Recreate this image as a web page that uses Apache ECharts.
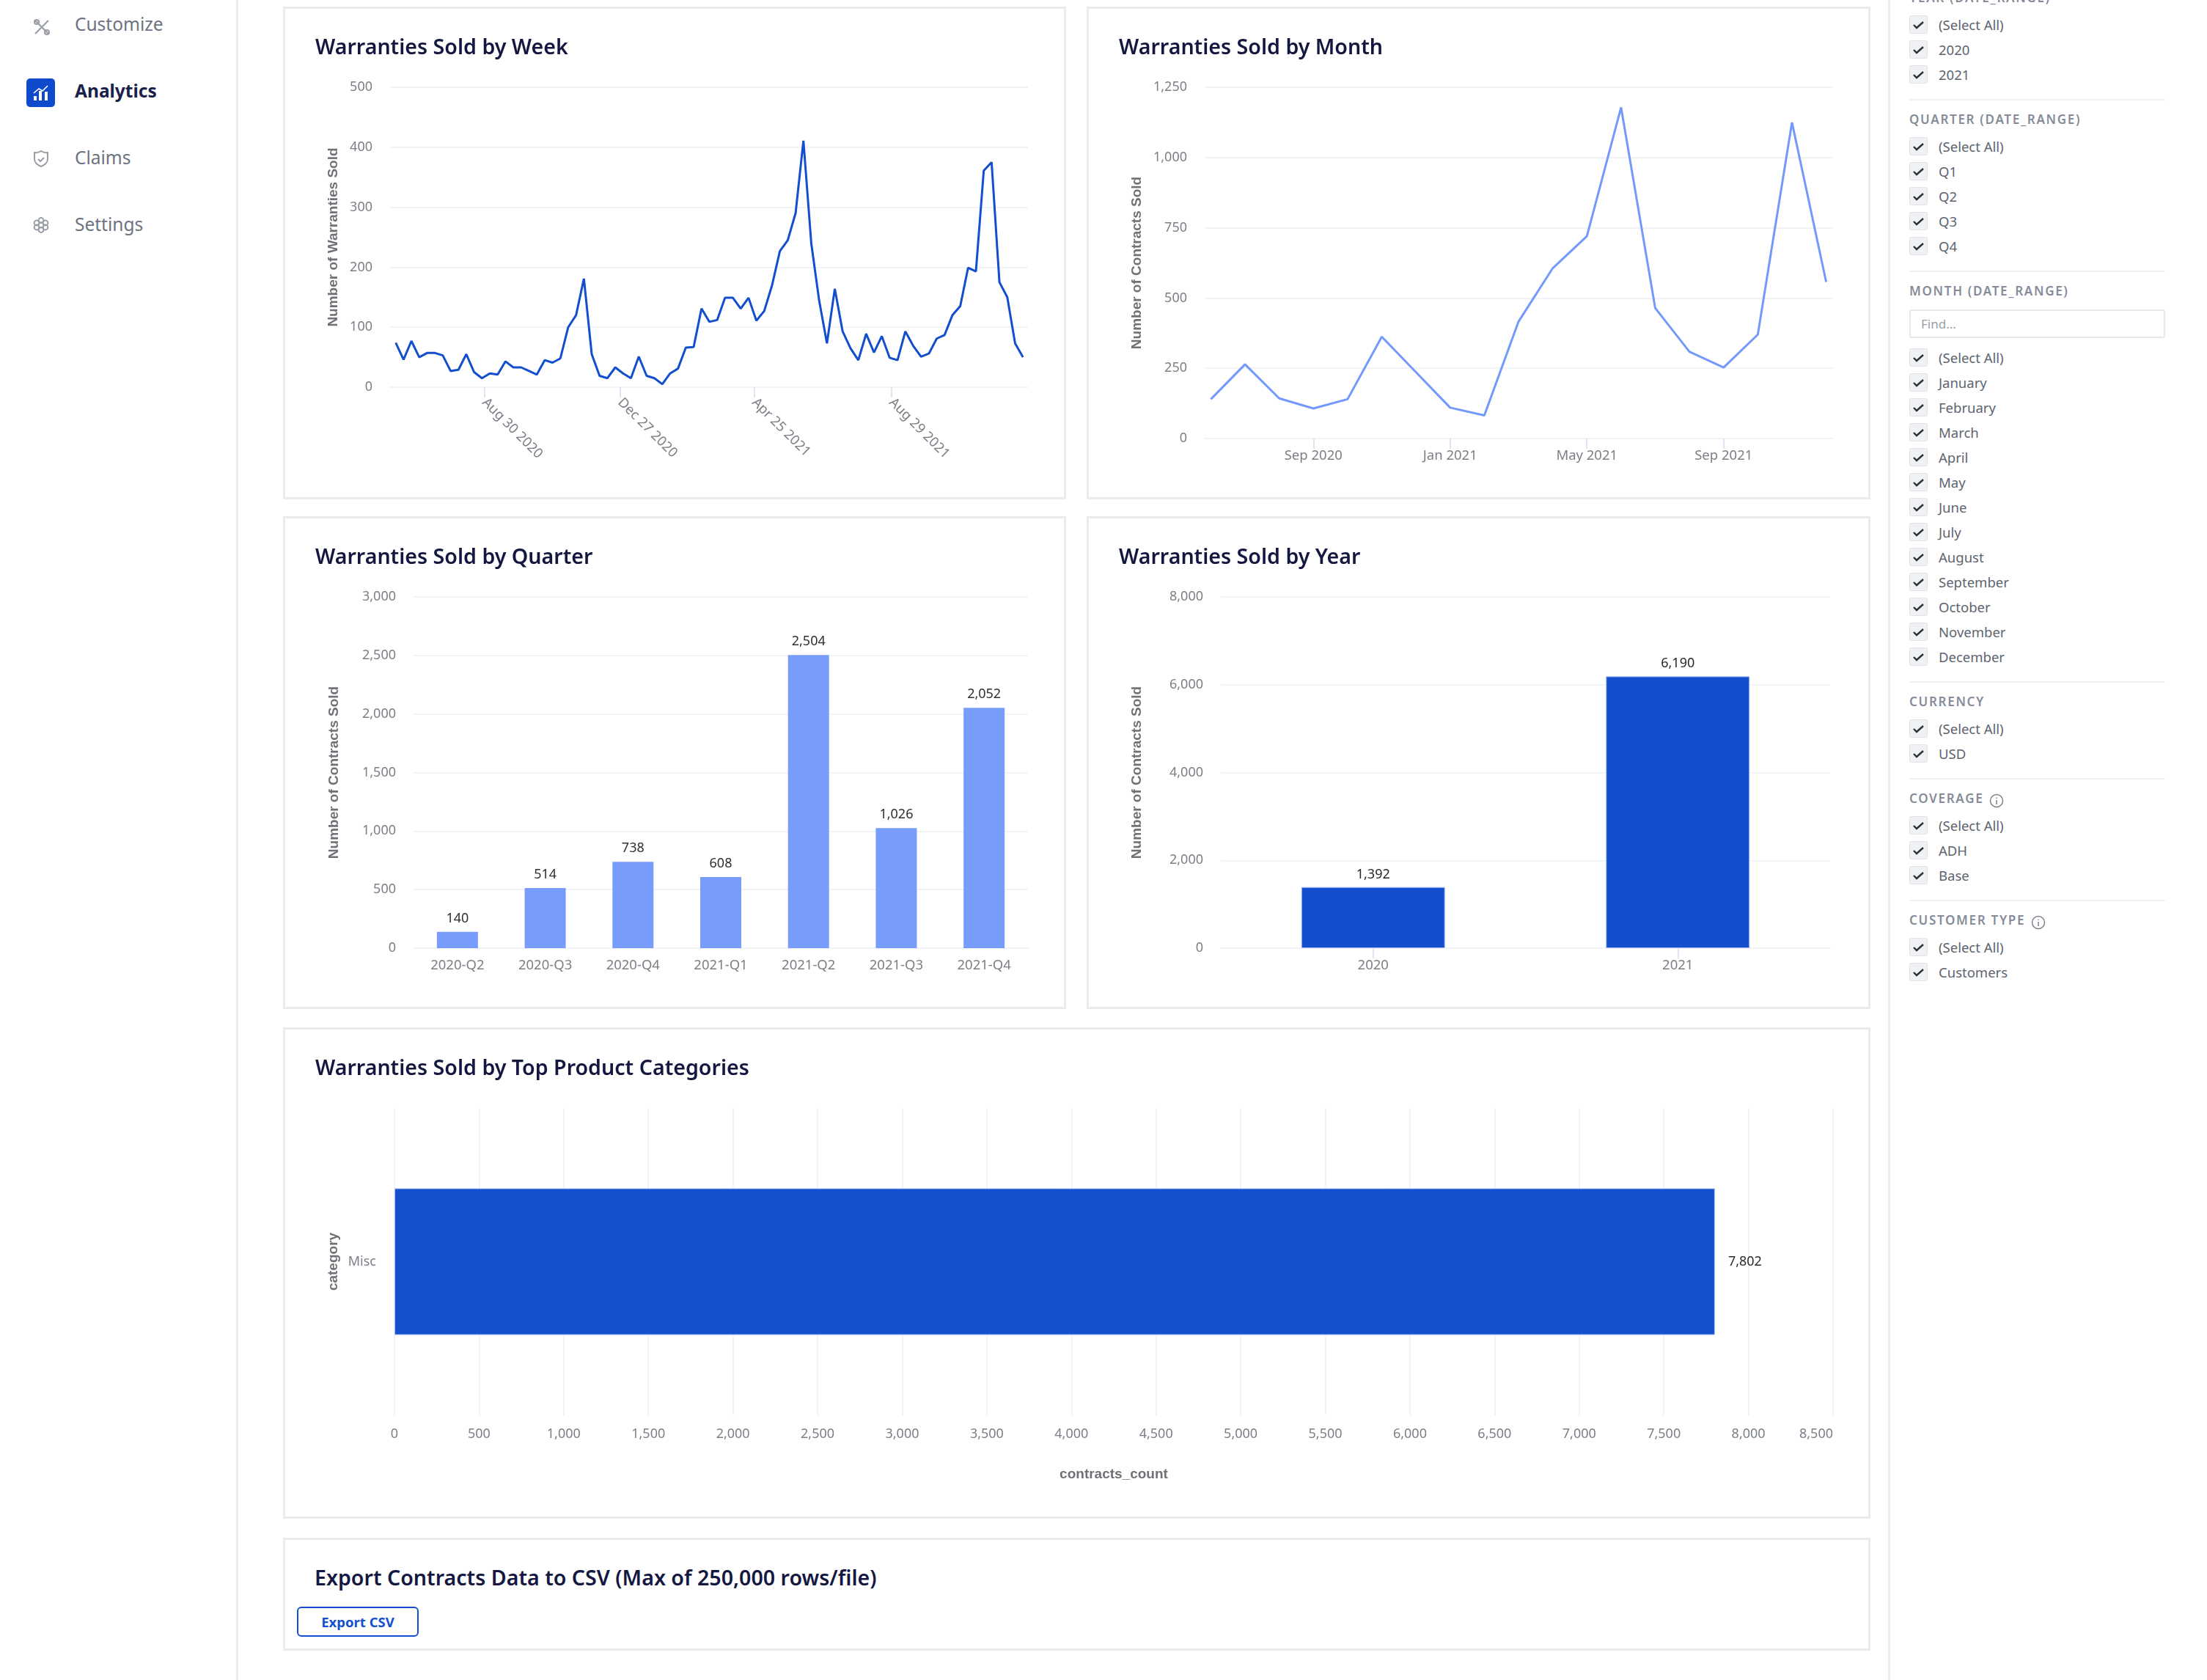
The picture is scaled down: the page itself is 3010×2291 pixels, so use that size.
<!DOCTYPE html>
<html>
<head>
<meta charset="utf-8">
<title>Warranties Analytics</title>
<script src="https://cdn.jsdelivr.net/npm/echarts@6/dist/echarts.min.js"></script>
<style>
html, body { margin: 0; padding: 0; background: #fff; }
body { position: relative; width: 3010px; height: 2291px; overflow: hidden; font-family: "Noto Sans", sans-serif; }
.vline { position: absolute; top: 0; bottom: 0; width: 3px; background: #e9ecf3; }
.nav { position: absolute; left: 102px; font-size: 24.5px; line-height: 34px; color: #6d737f; }
.nav.active { color: #1b1f4b; font-weight: 700; }
.navicon { position: absolute; }
.card { position: absolute; box-sizing: border-box; border: 3px solid #e9ebef; }
.chart { position: absolute; }
.export-title { position: absolute; left: 429px; top: 2131px; font-size: 28.6px; line-height: 40px; font-weight: 600; color: #14173f; white-space: nowrap; }
.export-btn { position: absolute; left: 405px; top: 2191px; width: 166px; height: 41px; box-sizing: border-box; border: 2px solid #1350d0; border-radius: 6px; color: #1350d0; font-size: 18.5px; font-weight: 700; line-height: 37px; text-align: center; }
#filters { position: absolute; left: 2604px; top: -13px; width: 349px; color: #5d6470; }
.fsec { border-bottom: 2px solid #eff0f3; padding-bottom: 16px; margin-bottom: 16px; }
.fsec:last-child { border-bottom: 0; }
.fhead { height: 20px; line-height: 20px; margin-bottom: 10px; font-size: 17px; font-weight: 600; letter-spacing: 1.7px; color: #858b98; white-space: nowrap; }
.fhead svg { vertical-align: -7px; margin-left: 8px; }
.ffind { box-sizing: border-box; height: 39px; margin: 15px 0 10px; border: 2px solid #e6e7eb; border-radius: 3px; font-size: 17px; line-height: 35px; padding-left: 14px; color: #9a9ea8; }
.frow { height: 34px; line-height: 34px; font-size: 18.5px; padding-left: 40px; position: relative; }
.frow svg { position: absolute; left: 0; top: 4px; }
</style>
</head>
<body>
<div class="vline" style="left:322px"></div>
<div class="vline" style="left:2575px"></div>

<svg class="navicon" style="left:45px;top:25px" width="24" height="24" viewBox="0 0 24 24" fill="none" stroke="#9a9ea6" stroke-width="2.2"><path d="M3 21 21 3M3 3l18 18"/><circle cx="5" cy="5" r="3"/><circle cx="19" cy="19" r="3"/></svg>
<div class="nav" style="top:16px">Customize</div>
<svg class="navicon" style="left:36px;top:107px" width="39" height="39" viewBox="0 0 39 39"><rect width="39" height="39" rx="5" fill="#0f49cc"/><path d="M10 30v-6h4v6zM17 30V17h4v13zM25 30V18h4v12z" fill="#fff"/><path d="M10 20l7-6 5 3 7-7" fill="none" stroke="#fff" stroke-width="1.6"/></svg>
<div class="nav active" style="top:107px">Analytics</div>
<svg class="navicon" style="left:45px;top:205px" width="22" height="24" viewBox="0 0 22 24" fill="none" stroke="#9a9ea6" stroke-width="2"><path d="M2 3c4 1 6 0 9-2 3 2 5 3 9 2v9c0 5-4 8-9 10C6 20 2 17 2 12z"/><path d="M7 12l3 3 5-5"/></svg>
<div class="nav" style="top:198px">Claims</div>
<svg class="navicon" style="left:45px;top:296px" width="22" height="22" viewBox="0 0 22 22" fill="none" stroke="#9a9ea6" stroke-width="2"><circle cx="11" cy="11" r="3.5"/><circle cx="11" cy="4.5" r="3.4"/><circle cx="11" cy="17.5" r="3.4"/><circle cx="5" cy="8" r="3.4"/><circle cx="17" cy="8" r="3.4"/><circle cx="5" cy="14" r="3.4"/><circle cx="17" cy="14" r="3.4"/></svg>
<div class="nav" style="top:289px">Settings</div>

<div class="card" style="left:386px;top:9px;width:1068px;height:672px"></div>
<div class="card" style="left:1482px;top:9px;width:1069px;height:672px"></div>
<div class="card" style="left:386px;top:704px;width:1068px;height:672px"></div>
<div class="card" style="left:1482px;top:704px;width:1069px;height:672px"></div>
<div class="card" style="left:386px;top:1401px;width:2165px;height:670px"></div>
<div class="card" style="left:386px;top:2097px;width:2165px;height:154px"></div>

<div id="chartWeek" class="chart" style="left:387px;top:11px;width:1067px;height:669px"></div>
<div id="chartMonth" class="chart" style="left:1482px;top:11px;width:1068px;height:669px"></div>
<div id="chartQuarter" class="chart" style="left:387px;top:706px;width:1067px;height:669px"></div>
<div id="chartYear" class="chart" style="left:1482px;top:706px;width:1068px;height:669px"></div>
<div id="chartCategory" class="chart" style="left:387px;top:1403px;width:2163px;height:667px"></div>

<div class="export-title">Export Contracts Data to CSV (Max of 250,000 rows/file)</div>
<div class="export-btn">Export CSV</div>

<div id="filters"></div>

<script>
// chart data
var weekValues = [74, 46, 77, 50, 57, 57, 53, 27, 29, 55, 25, 15, 23, 21, 43, 33, 33, 27, 21, 45, 41, 48, 100, 120, 181, 55, 19, 15, 33, 23, 15, 51, 19, 15, 5, 23, 31, 66, 67, 131, 109, 112, 149, 149, 131, 149, 111, 127, 170, 227, 245, 290, 411, 240, 145, 73, 164, 93, 65, 45, 89, 58, 85, 49, 45, 93, 69, 51, 56, 81, 87, 120, 135, 199, 193, 361, 375, 175, 150, 73, 50];
var weekTickPos = [11.29, 28.6, 45.7, 63.2];
var weekTickLabels = ['Aug 30 2020', 'Dec 27 2020', 'Apr 25 2021', 'Aug 29 2021'];

var monthValues = [140, 264, 143, 107, 140, 362, 236, 110, 82, 416, 606, 720, 1178, 464, 309, 253, 370, 1125, 557];
var monthTickPos = [3, 7, 11, 15];
var monthTickLabels = ['Sep 2020', 'Jan 2021', 'May 2021', 'Sep 2021'];

var quarterNames = ['2020-Q2', '2020-Q3', '2020-Q4', '2021-Q1', '2021-Q2', '2021-Q3', '2021-Q4'];
var quarterValues = [140, 514, 738, 608, 2504, 1026, 2052];

var yearNames = ['2020', '2021'];
var yearValues = [1392, 6190];

var categoryNames = ['Misc'];
var categoryValues = [7802];

// filter panel
var selectAll = '(Select All)';
var yearFilter = [selectAll, '2020', '2021'];
var quarterFilter = [selectAll, 'Q1', 'Q2', 'Q3', 'Q4'];
var monthFilter = [selectAll, 'January', 'February', 'March', 'April', 'May', 'June', 'July', 'August', 'September', 'October', 'November', 'December'];
var currencyFilter = [selectAll, 'USD'];
var coverageFilter = [selectAll, 'ADH', 'Base'];
var customerFilter = [selectAll, 'Customers'];

var FONT = 'Noto Sans';
var DARK_BLUE = '#124ece';
var LIGHT_BLUE = '#7499fc';
var TICK_TEXT = '#7b7f86';
var GRID = '#f2f3f6';

function indexPairs(values) {
    return values.map(function (v, i) { return [i, v]; });
}

// title has 5px default padding, so left/top are that much less than the text position
function titleOf(text, left) {
    return { text: text, left: left, top: 35, textStyle: { fontFamily: FONT, fontSize: 28.6, fontWeight: 600, color: '#14173f' } };
}

function valueAxis(max, interval, name, nameGap) {
    return {
        type: 'value', min: 0, max: max, interval: interval,
        name: name, nameLocation: 'middle', nameGap: nameGap,
        nameTextStyle: { fontFamily: 'Liberation Sans', fontSize: 19, fontWeight: 700, color: '#6f7176' },
        axisLine: { show: false }, axisTick: { show: false },
        axisLabel: { fontFamily: FONT, fontSize: 18, color: TICK_TEXT, margin: 24, padding: [3, 0, 0, 0] },
        splitLine: { lineStyle: { color: GRID, width: 2 } }
    };
}

// x axis for the two line charts: ticks only at the labelled positions
function indexAxis(min, max, tickPos, tickLabels, rotate, margin) {
    return {
        type: 'value', min: min, max: max,
        splitLine: { show: false },
        axisLine: { lineStyle: { color: GRID, width: 2 } },
        axisTick: { customValues: tickPos, length: 14, lineStyle: { color: '#dde4f4', width: 2 } },
        axisLabel: {
            customValues: tickPos, rotate: rotate, margin: margin,
            fontFamily: FONT, fontSize: 18.5, color: TICK_TEXT,
            formatter: function (v) { return tickLabels[tickPos.indexOf(v)]; }
        }
    };
}

function categoryAxis(names, showTick) {
    return {
        type: 'category', data: names,
        axisLine: { lineStyle: { color: GRID, width: 2 } },
        axisTick: { show: showTick, alignWithLabel: true, length: 14, lineStyle: { color: '#dde4f4', width: 2 } },
        axisLabel: { fontFamily: FONT, fontSize: 18.5, color: TICK_TEXT, margin: 14 }
    };
}

function barLabel(pos, dist) {
    return {
        show: true, position: pos, distance: dist,
        fontFamily: FONT, fontSize: 18, color: '#26282c',
        formatter: function (p) { return p.value.toLocaleString('en-US'); }
    };
}

function lineSeries(values, color) {
    return { type: 'line', data: indexPairs(values), showSymbol: false, lineStyle: { color: color, width: 3 } };
}

echarts.init(document.getElementById('chartWeek')).setOption({
    animation: false,
    title: titleOf('Warranties Sold by Week', 38),
    grid: { left: 145, top: 108, right: 52, bottom: 152 },
    xAxis: indexAxis(-0.72, 80.64, weekTickPos, weekTickLabels, -45, 18),
    yAxis: valueAxis(500, 100, 'Number of Warranties Sold', 68),
    series: [lineSeries(weekValues, DARK_BLUE)]
});

echarts.init(document.getElementById('chartMonth')).setOption({
    animation: false,
    title: titleOf('Warranties Sold by Month', 39),
    grid: { left: 161, top: 108, right: 51, bottom: 82 },
    xAxis: indexAxis(-0.18, 18.18, monthTickPos, monthTickLabels, 0, 14),
    yAxis: valueAxis(1250, 250, 'Number of Contracts Sold', 83),
    series: [lineSeries(monthValues, LIGHT_BLUE)]
});

echarts.init(document.getElementById('chartQuarter')).setOption({
    animation: false,
    title: titleOf('Warranties Sold by Quarter', 38),
    grid: { left: 177, top: 108, right: 52, bottom: 82 },
    xAxis: categoryAxis(quarterNames, false),
    yAxis: valueAxis(3000, 500, 'Number of Contracts Sold', 99),
    series: [{
        type: 'bar', data: quarterValues, barWidth: 56,
        itemStyle: { color: LIGHT_BLUE, opacity: 0.97 },
        label: barLabel('top', 9)
    }]
});

echarts.init(document.getElementById('chartYear')).setOption({
    animation: false,
    title: titleOf('Warranties Sold by Year', 39),
    grid: { left: 183, top: 108, right: 54, bottom: 82 },
    xAxis: categoryAxis(yearNames, true),
    yAxis: valueAxis(8000, 2000, 'Number of Contracts Sold', 105),
    series: [{
        type: 'bar', data: yearValues, barWidth: 196,
        itemStyle: { color: DARK_BLUE, borderColor: '#a9bff2', borderWidth: 1 },
        label: barLabel('top', 8)
    }]
});

var catValueAxis = valueAxis(8500, 500, 'contracts_count', 71);
catValueAxis.axisLabel.margin = 17;
catValueAxis.axisLabel.padding = 0;
catValueAxis.axisLabel.alignMaxLabel = 'right';
echarts.init(document.getElementById('chartCategory')).setOption({
    animation: false,
    title: titleOf('Warranties Sold by Top Product Categories', 38),
    grid: { left: 151, top: 108, right: 50, bottom: 140 },
    xAxis: catValueAxis,
    yAxis: {
        type: 'category', data: categoryNames,
        name: 'category', nameLocation: 'middle', nameGap: 74,
        nameTextStyle: { fontFamily: 'Liberation Sans', fontSize: 19, fontWeight: 700, color: '#6f7176' },
        axisLine: { show: false }, axisTick: { show: false },
        axisLabel: { fontFamily: FONT, fontSize: 18, color: TICK_TEXT, margin: 25 }
    },
    series: [{
        type: 'bar', data: categoryValues, barWidth: 200,
        itemStyle: { color: '#0f4bcd', borderColor: '#a9bff2', borderWidth: 1, opacity: 0.98 },
        label: barLabel('right', 18)
    }]
});

// filter panel markup
var CHECK = '<svg width="25" height="25" viewBox="0 0 25 25"><rect x="0.5" y="0.5" width="24" height="24" rx="2" fill="#f0f1f4" stroke="#e0e2e7"/><path d="M6 13l4 4 9-8" fill="none" stroke="#2c3038" stroke-width="2.4"/></svg>';
var INFO = '<svg width="20" height="20" viewBox="0 0 20 20" fill="none" stroke="#7b808b" stroke-width="1.5"><circle cx="10" cy="10" r="8.5"/><path d="M10 9v6M10 5.5v1.6"/></svg>';

function filterSection(title, items, hasFind, hasInfo) {
    var html = '<div class="fsec"><div class="fhead">' + title + (hasInfo ? INFO : '') + '</div>';
    if (hasFind) html += '<div class="ffind">Find...</div>';
    items.forEach(function (t) {
        html += '<div class="frow">' + CHECK + t + '</div>';
    });
    return html + '</div>';
}

document.getElementById('filters').innerHTML =
    filterSection('YEAR (DATE_RANGE)', yearFilter) +
    filterSection('QUARTER (DATE_RANGE)', quarterFilter) +
    filterSection('MONTH (DATE_RANGE)', monthFilter, true) +
    filterSection('CURRENCY', currencyFilter) +
    filterSection('COVERAGE', coverageFilter, false, true) +
    filterSection('CUSTOMER TYPE', customerFilter, false, true);
</script>
</body>
</html>
